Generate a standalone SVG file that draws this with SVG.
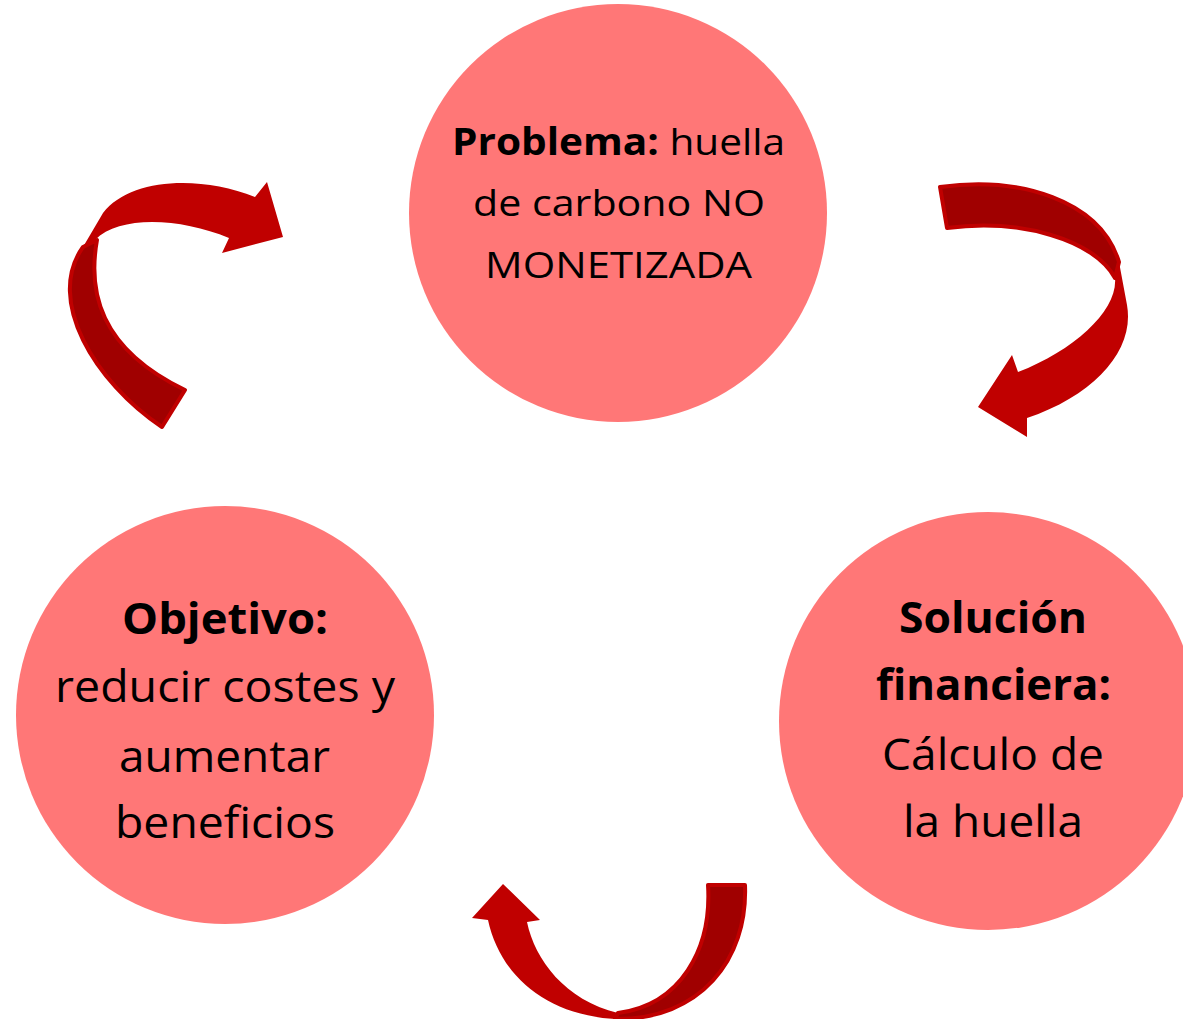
<svg xmlns="http://www.w3.org/2000/svg" width="1183" height="1019" viewBox="0 0 1183 1019">
<style>
.node{fill:#FF7777}
.t{font-family:"Open Sans","Noto Sans","Liberation Sans",sans-serif;fill:#000;text-anchor:middle}
.b{font-weight:bold}
.front{fill:#C00000}
.back{fill:#A00000;stroke:#C00000;stroke-width:4;stroke-linejoin:round}
</style>
<rect width="1183" height="1019" fill="#fff"/>
<g id="node-problema">
<circle class="node" cx="618" cy="213" r="209"/>
<text class="t" font-size="37" x="618.5" y="155" textLength="333" lengthAdjust="spacingAndGlyphs"><tspan class="b">Problema:</tspan> huella</text>
<text class="t" font-size="37" x="619" y="216" textLength="292" lengthAdjust="spacingAndGlyphs">de carbono NO</text>
<text class="t" font-size="37" x="618.5" y="278" textLength="267" lengthAdjust="spacingAndGlyphs">MONETIZADA</text>
</g>
<g id="node-objetivo">
<circle class="node" cx="225" cy="715" r="209"/>
<text class="t b" font-size="43" x="225" y="634" textLength="206" lengthAdjust="spacingAndGlyphs">Objetivo:</text>
<text class="t" font-size="43" x="225" y="702" textLength="340" lengthAdjust="spacingAndGlyphs">reducir costes y</text>
<text class="t" font-size="43" x="224.5" y="772" textLength="211" lengthAdjust="spacingAndGlyphs">aumentar</text>
<text class="t" font-size="43" x="225" y="838" textLength="220" lengthAdjust="spacingAndGlyphs">beneficios</text>
</g>
<g id="node-solucion">
<circle class="node" cx="988" cy="721" r="209"/>
<text class="t b" font-size="43" x="993" y="633" textLength="188" lengthAdjust="spacingAndGlyphs">Solución</text>
<text class="t b" font-size="43" x="993.5" y="700" textLength="235" lengthAdjust="spacingAndGlyphs">financiera:</text>
<text class="t" font-size="43" x="993" y="770" textLength="222" lengthAdjust="spacingAndGlyphs">Cálculo de</text>
<text class="t" font-size="43" x="993" y="837" textLength="180" lengthAdjust="spacingAndGlyphs">la huella</text>
</g>
<g id="connectors">
<g id="arrow-objetivo-problema">
<path class="back" d="M97 240 C88 290 98 348 185 390 L162 427 C95 382 45 300 83 247 Z"/>
<path class="front" d="M83 247 L103 213 C130 178 200 175 255 197 L267 182 L283 237 L222 253 L229 238 C180 218 120 215 95 240 Z"/>
</g>
<g id="arrow-problema-solucion">
<path class="back" d="M940 187 C1020 176 1100 200 1119 262 L1115 278 C1095 240 1020 218 947 228 Z"/>
<path class="front" d="M1119 262 L1127 305 C1135 350 1095 395 1027 418 L1027 437 L978 407 L1012 355 L1018 372 C1075 350 1118 310 1115 278 Z"/>
</g>
<g id="arrow-solucion-objetivo">
<path class="back" d="M708 885 L745 885 C748 960 700 1020 615 1019 L618 1013 C680 1005 712 950 708 885 Z"/>
<path class="front" d="M618 1013 C565 1000 535 960 527 922 L540 920 L503 884 L472 918 L488 920 C500 975 545 1015 615 1019 Z"/>
</g>
</g>
</svg>
